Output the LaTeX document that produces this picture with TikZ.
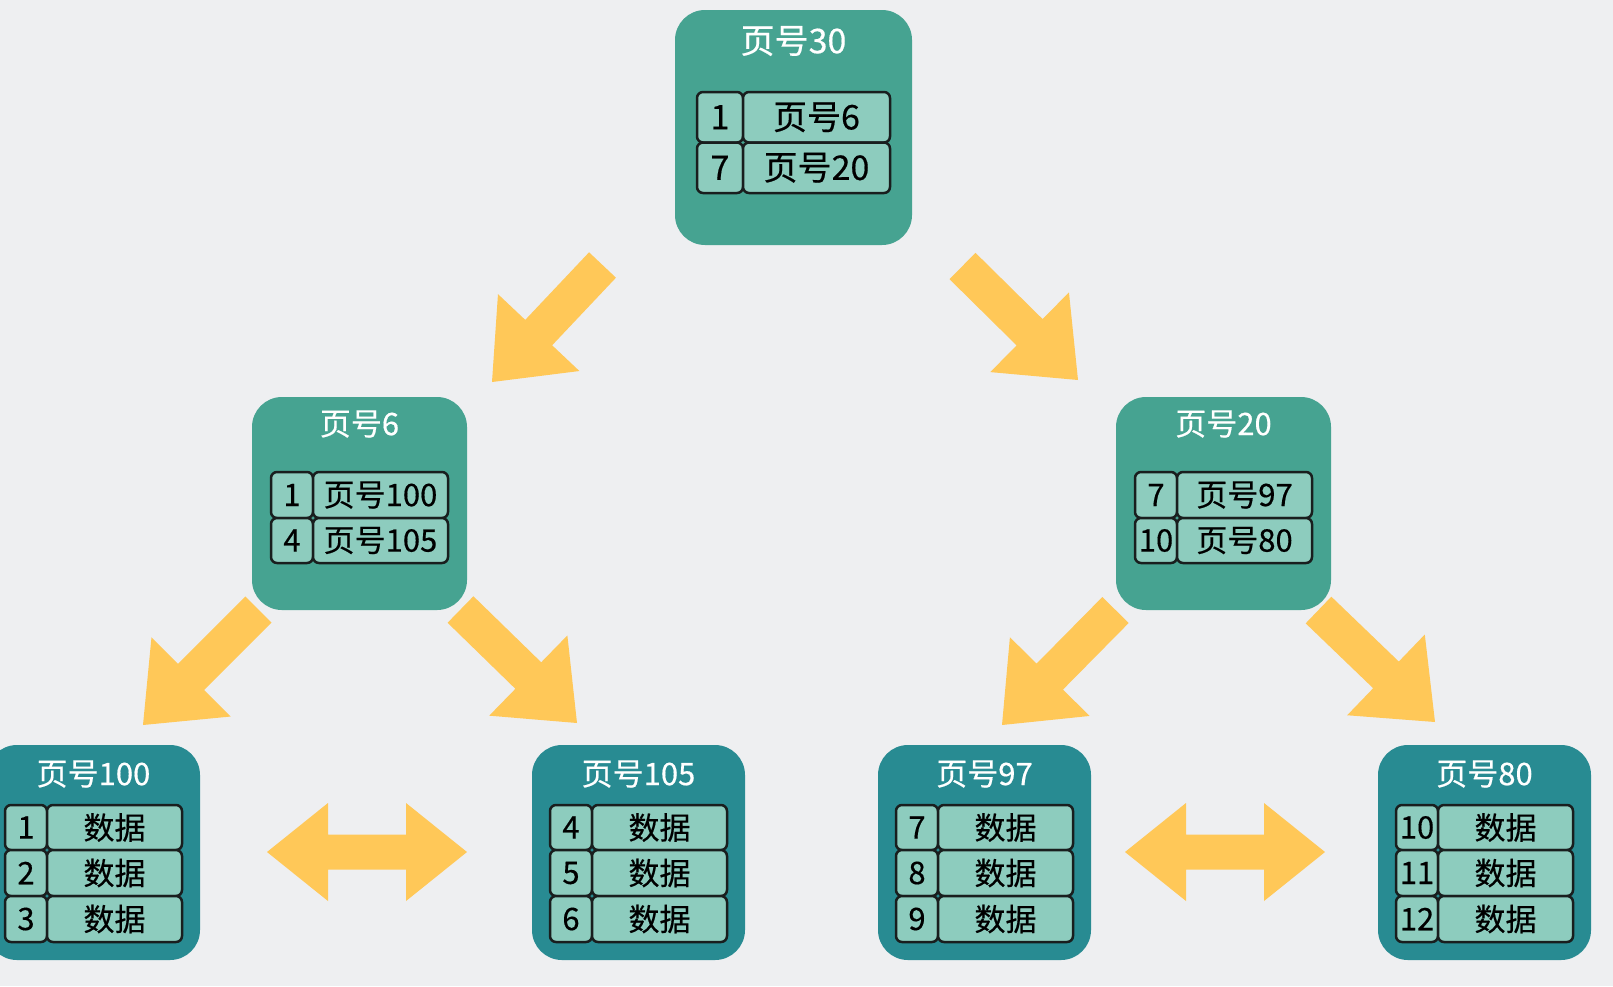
\documentclass[tikz,border=0pt]{standalone}
\usepackage{fontspec}
\setmainfont{Noto Sans CJK SC}[FakeBold=0.4]
\usetikzlibrary{calc}
\definecolor{bg}{RGB}{238,239,241}
\definecolor{innerteal}{RGB}{70,163,145}
\definecolor{leafteal}{RGB}{40,139,146}
\definecolor{cellfill}{RGB}{141,204,190}
\definecolor{arrowy}{RGB}{255,200,88}
\definecolor{cellline}{RGB}{25,30,30}
\tikzset{
  pagebox/.style={fill=innerteal, rounded corners=30pt, inner sep=0pt, outer sep=0pt},
  leafbox/.style={pagebox, fill=leafteal},
  cell/.style={draw=cellline, line width=2.5pt, fill=cellfill, rounded corners=6pt,
               inner sep=0pt, outer sep=0pt, text=black},
  titletxt/.style={text=white, inner sep=0pt},
  bigtxt/.style={font=\fontsize{34}{36}\selectfont},
  midtxt/.style={font=\fontsize{31}{33}\selectfont},
  fat/.style={fill=arrowy},
}
% name, x1, y1, x2, y2, style, text
\newcommand\rbox[7]{%
  \pgfmathsetmacro\cx{(#2+#4)/2}\pgfmathsetmacro\cy{(#3+#5)/2}%
  \pgfmathsetmacro\cw{#4-#2}\pgfmathsetmacro\ch{#5-#3}%
  \node[#6, minimum width=\cw pt, minimum height=\ch pt] (#1) at (\cx,\cy) {#7};}
\newcommand\fatarrow[2]{%
  \coordinate (#1-base) at ($(#2)!68pt!(#1)$);
  \fill[fat] ($(#1)!18.5pt!90:(#2)$) -- ($(#1-base)!18.5pt!90:(#2)$) --
    ($(#1-base)!56pt!90:(#2)$) -- (#2) -- ($(#1-base)!56pt!-90:(#2)$) --
    ($(#1-base)!18.5pt!-90:(#2)$) -- ($(#1)!18.5pt!-90:(#2)$) -- cycle;}
\newcommand\dblarrow[2]{%
  \coordinate (#1-b) at ($(#1)!61pt!(#2)$);
  \coordinate (#2-b) at ($(#2)!61pt!(#1)$);
  \fill[fat] (#1) -- ($(#1-b)!49pt!90:(#2)$) -- ($(#1-b)!17.5pt!90:(#2)$) --
    ($(#2-b)!17.5pt!90:(#2)$) -- ($(#2-b)!49pt!90:(#2)$) -- (#2) --
    ($(#2-b)!49pt!-90:(#2)$) -- ($(#2-b)!17.5pt!-90:(#2)$) --
    ($(#1-b)!17.5pt!-90:(#2)$) -- ($(#1-b)!49pt!-90:(#2)$) -- cycle;}
\begin{document}
\begin{tikzpicture}[x=1pt,y=-1pt]
\fill[bg] (0,0) rectangle (1613,986);
\useasboundingbox (0,0) rectangle (1613,986);

% ---------- root ----------
\rbox{p30}{675}{10}{912}{245}{pagebox}{}
\node[titletxt,bigtxt] (p30t) at (793.5,41) {页号30};
\rbox{p30a}{697}{92}{743}{142.5}{cell,bigtxt}{1}
\rbox{p30b}{743}{92}{890}{142.5}{cell,bigtxt}{页号6}
\rbox{p30c}{697}{142.5}{743}{193}{cell,bigtxt}{7}
\rbox{p30d}{743}{142.5}{890}{193}{cell,bigtxt}{页号20}

% ---------- level 2 ----------
\rbox{p6}{252}{397}{467}{610}{pagebox}{}
\node[titletxt,midtxt] (p6t) at (359.5,424) {页号6};
\rbox{p6a}{271}{472}{313}{518}{cell,midtxt}{1}
\rbox{p6b}{313}{472}{448}{518}{cell,midtxt}{页号100}
\rbox{p6c}{271}{518}{313}{563}{cell,midtxt}{4}
\rbox{p6d}{313}{518}{448}{563}{cell,midtxt}{页号105}

\rbox{p20}{1116}{397}{1331}{610}{pagebox}{}
\node[titletxt,midtxt] (p20t) at (1223.5,424) {页号20};
\rbox{p20a}{1135}{472}{1177}{518}{cell,midtxt}{7}
\rbox{p20b}{1177}{472}{1312}{518}{cell,midtxt}{页号97}
\rbox{p20c}{1135}{518}{1177}{563}{cell,midtxt}{10}
\rbox{p20d}{1177}{518}{1312}{563}{cell,midtxt}{页号80}

% ---------- leaves ----------
\rbox{p100}{-13}{745}{200}{960}{leafbox}{}
\node[titletxt,midtxt] (p100t) at (93.5,774) {页号100};
\rbox{p100a}{5}{805}{47}{850}{cell,midtxt}{1}
\rbox{p100b}{47}{805}{182}{850}{cell,midtxt}{数据}
\rbox{p100c}{5}{850}{47}{896}{cell,midtxt}{2}
\rbox{p100d}{47}{850}{182}{896}{cell,midtxt}{数据}
\rbox{p100e}{5}{896}{47}{942}{cell,midtxt}{3}
\rbox{p100f}{47}{896}{182}{942}{cell,midtxt}{数据}

\rbox{p105}{532}{745}{745}{960}{leafbox}{}
\node[titletxt,midtxt] (p105t) at (638.5,774) {页号105};
\rbox{p105a}{550}{805}{592}{850}{cell,midtxt}{4}
\rbox{p105b}{592}{805}{727}{850}{cell,midtxt}{数据}
\rbox{p105c}{550}{850}{592}{896}{cell,midtxt}{5}
\rbox{p105d}{592}{850}{727}{896}{cell,midtxt}{数据}
\rbox{p105e}{550}{896}{592}{942}{cell,midtxt}{6}
\rbox{p105f}{592}{896}{727}{942}{cell,midtxt}{数据}

\rbox{p97}{878}{745}{1091}{960}{leafbox}{}
\node[titletxt,midtxt] (p97t) at (984.5,774) {页号97};
\rbox{p97a}{896}{805}{938}{850}{cell,midtxt}{7}
\rbox{p97b}{938}{805}{1073}{850}{cell,midtxt}{数据}
\rbox{p97c}{896}{850}{938}{896}{cell,midtxt}{8}
\rbox{p97d}{938}{850}{1073}{896}{cell,midtxt}{数据}
\rbox{p97e}{896}{896}{938}{942}{cell,midtxt}{9}
\rbox{p97f}{938}{896}{1073}{942}{cell,midtxt}{数据}

\rbox{p80}{1378}{745}{1591}{960}{leafbox}{}
\node[titletxt,midtxt] (p80t) at (1484.5,774) {页号80};
\rbox{p80a}{1396}{805}{1438}{850}{cell,midtxt}{10}
\rbox{p80b}{1438}{805}{1573}{850}{cell,midtxt}{数据}
\rbox{p80c}{1396}{850}{1438}{896}{cell,midtxt}{11}
\rbox{p80d}{1438}{850}{1573}{896}{cell,midtxt}{数据}
\rbox{p80e}{1396}{896}{1438}{942}{cell,midtxt}{12}
\rbox{p80f}{1438}{896}{1573}{942}{cell,midtxt}{数据}

% ---------- arrows ----------
\coordinate (a1t) at (602.5,265);  \coordinate (a1h) at (492,382);
\coordinate (a2t) at (962.5,266);  \coordinate (a2h) at (1078,380);
\coordinate (a3t) at (258.5,609.5); \coordinate (a3h) at (143,725);
\coordinate (a4t) at (460.5,609.5); \coordinate (a4h) at (577,723);
\coordinate (a5t) at (1115.5,610); \coordinate (a5h) at (1002,725);
\coordinate (a6t) at (1318.5,610); \coordinate (a6h) at (1435,722);
\fatarrow{a1t}{a1h}
\fatarrow{a2t}{a2h}
\fatarrow{a3t}{a3h}
\fatarrow{a4t}{a4h}
\fatarrow{a5t}{a5h}
\fatarrow{a6t}{a6h}

\coordinate (d1l) at (267,852);  \coordinate (d1r) at (467,852);
\coordinate (d2l) at (1125,852); \coordinate (d2r) at (1325,852);
\dblarrow{d1l}{d1r}
\dblarrow{d2l}{d2r}
\end{tikzpicture}
\end{document}
